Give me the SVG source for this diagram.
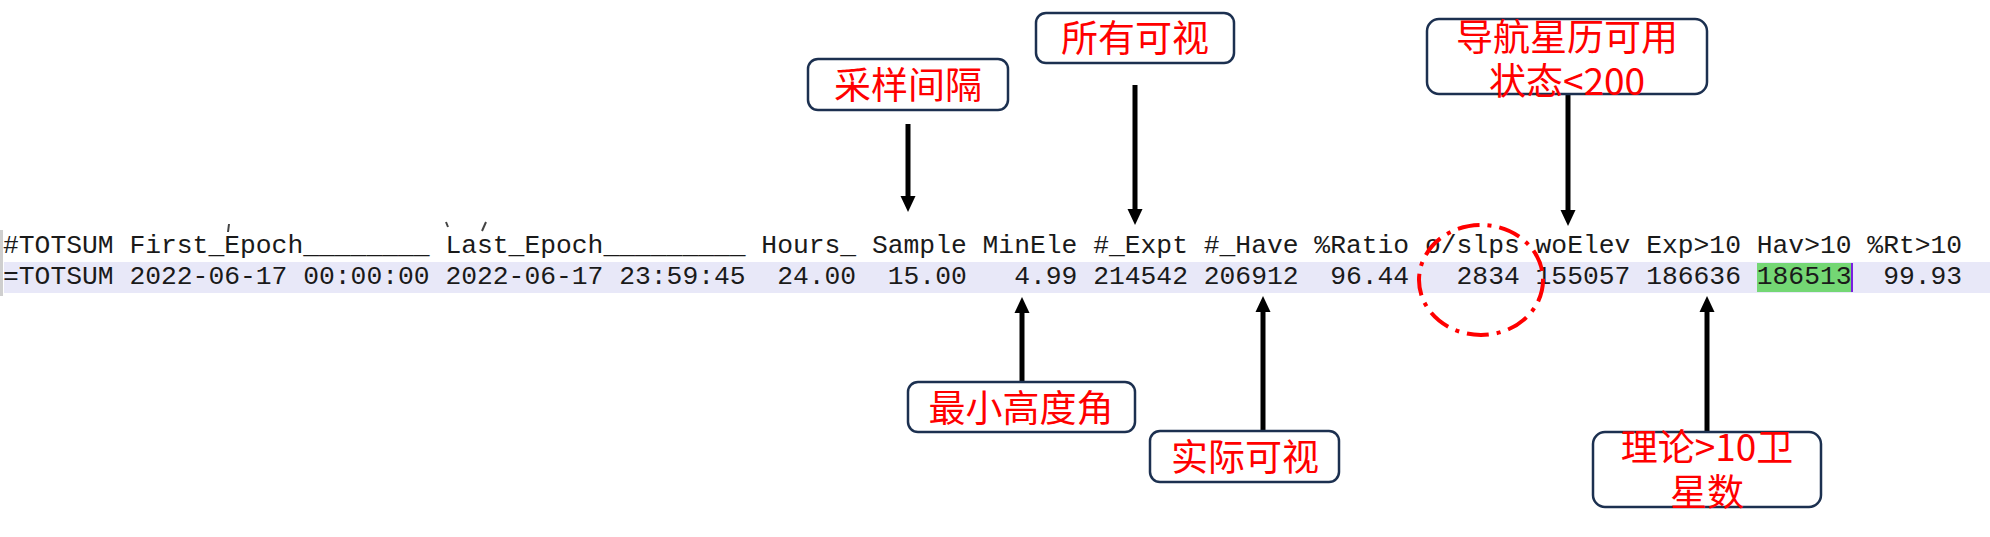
<svg xmlns="http://www.w3.org/2000/svg" width="1990" height="537" viewBox="0 0 1990 537">
<style>
.mono{font-family:"Liberation Mono","Courier New",monospace;font-size:26.33px;fill:#1a1a1a;white-space:pre}
.box{fill:#ffffff;stroke:#1c3050;stroke-width:2.5}
.lbl{font-family:"Noto Sans CJK SC","Noto Sans",sans-serif;font-size:37px;fill:#ff0000;text-anchor:middle}
.arr{stroke:#000;stroke-width:5;fill:none;marker-end:url(#head)}
</style>
<defs>
<marker id="head" markerUnits="userSpaceOnUse" markerWidth="16" markerHeight="16" viewBox="0 0 16 16" refX="8" refY="8" orient="auto">
<path d="M0,0.5 L16,8 L0,15.5 z" fill="#000"/>
</marker>
</defs>
<rect width="1990" height="537" fill="#ffffff"/>
<g id="table">
<rect x="4" y="262" width="1986" height="31" fill="#e8e8f8"/>
<rect x="0" y="230" width="3" height="66" fill="#cfcfcf"/>
<rect x="1757" y="263" width="94" height="29" fill="#74d774"/>
<rect x="1851" y="263" width="2" height="29" fill="#7a1fe0"/>
<path d="M229,224 L228,232 M446,222 L448,227 M486,222 L482,231" stroke="#444" stroke-width="2" fill="none"/>
<text class="mono" x="3" y="253" xml:space="preserve">#TOTSUM First_Epoch________ Last_Epoch_________ Hours_ Sample MinEle #_Expt #_Have %Ratio o/slps woElev Exp&gt;10 Hav&gt;10 %Rt&gt;10</text>
<text class="mono" x="3" y="284" xml:space="preserve">=TOTSUM 2022-06-17 00:00:00 2022-06-17 23:59:45  24.00  15.00   4.99 214542 206912  96.44   2834 155057 186636 186513  99.93</text>
<ellipse cx="1481" cy="280" rx="62" ry="55" fill="none" stroke="#ff0000" stroke-width="4" stroke-dasharray="22 8 4 8"/>
</g>
<g id="connectors">
<line class="arr" x1="908" y1="124" x2="908" y2="204"/>
<line class="arr" x1="1135" y1="85" x2="1135" y2="217"/>
<line class="arr" x1="1568" y1="94" x2="1568" y2="218"/>
<line class="arr" x1="1022" y1="382" x2="1022" y2="305"/>
<line class="arr" x1="1263" y1="431" x2="1263" y2="304"/>
<line class="arr" x1="1707" y1="432" x2="1707" y2="304"/>
</g>
<g id="node-sample">
<rect class="box" x="808" y="59" width="200" height="51" rx="10"/>
<text class="lbl" x="908" y="99">采样间隔</text>
</g>
<g id="node-expt">
<rect class="box" x="1036" y="13" width="198" height="50" rx="10"/>
<text class="lbl" x="1135" y="52">所有可视</text>
</g>
<g id="node-ephem">
<rect class="box" x="1427" y="19" width="280" height="75" rx="12"/>
<text class="lbl" x="1567" y="51">导航星历可用</text>
<text class="lbl" x="1567" y="95">状态&lt;200</text>
</g>
<g id="node-minele">
<rect class="box" x="908" y="382" width="227" height="50" rx="10"/>
<text class="lbl" x="1021" y="422">最小高度角</text>
</g>
<g id="node-have">
<rect class="box" x="1150" y="431" width="189" height="51" rx="10"/>
<text class="lbl" x="1245" y="471">实际可视</text>
</g>
<g id="node-exp10">
<rect class="box" x="1593" y="432" width="228" height="75" rx="12"/>
<text class="lbl" x="1707" y="461">理论&gt;10卫</text>
<text class="lbl" x="1707" y="506">星数</text>
</g>
</svg>
